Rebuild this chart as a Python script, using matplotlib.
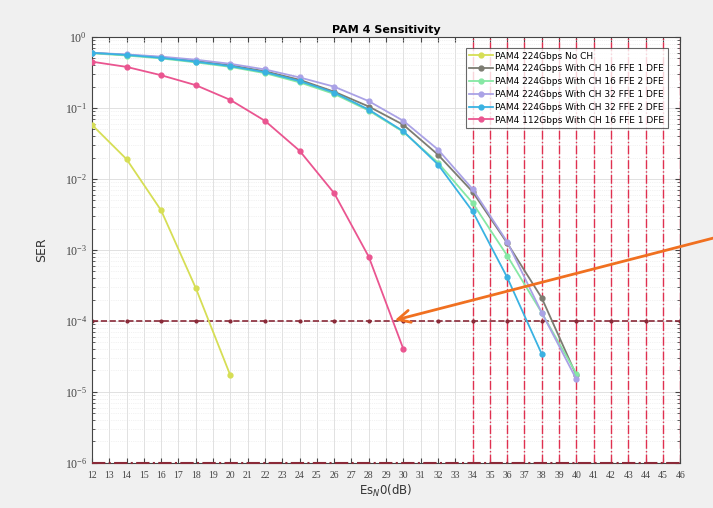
import numpy as np
import matplotlib
matplotlib.use("Agg")
import matplotlib.pyplot as plt
from matplotlib.ticker import LogLocator, NullFormatter

# SER curves (x in dB)
x_no_ch = [12, 14, 16, 18, 20]
ser_no_ch = [0.058, 0.019, 0.0036, 2.9e-4, 1.7e-5]

x_long = [12, 14, 16, 18, 20, 22, 24, 26, 28, 30, 32, 34, 36, 38, 40]
ser_ch16_ffe1 = [0.60, 0.56, 0.52, 0.46, 0.40, 0.33, 0.25, 0.17, 0.105, 0.058,
                 0.022, 0.0066, 0.00125, 2.1e-4, 1.7e-5]
ser_ch16_ffe2 = [0.59, 0.55, 0.50, 0.44, 0.38, 0.31, 0.23, 0.158, 0.092, 0.046,
                 0.017, 0.0046, 8.3e-4, 1.3e-4, 1.8e-5]
ser_ch32_ffe1 = [0.60, 0.57, 0.53, 0.48, 0.42, 0.35, 0.27, 0.20, 0.125, 0.066,
                 0.026, 0.0072, 0.0013, 1.3e-4, 1.5e-5]

x_ch32_ffe2 = [12, 14, 16, 18, 20, 22, 24, 26, 28, 30, 32, 34, 36, 38]
ser_ch32_ffe2 = [0.60, 0.56, 0.51, 0.45, 0.39, 0.32, 0.24, 0.165, 0.095, 0.047,
                 0.016, 0.0035, 4.1e-4, 3.4e-5]

x_112 = [12, 14, 16, 18, 20, 22, 24, 26, 28, 30]
ser_112 = [0.45, 0.38, 0.29, 0.21, 0.13, 0.066, 0.025, 0.0063, 8e-4, 4e-5]

labels = ["PAM4 224Gbps No CH",
          "PAM4 224Gbps With CH 16 FFE 1 DFE",
          "PAM4 224Gbps With CH 16 FFE 2 DFE",
          "PAM4 224Gbps With CH 32 FFE 1 DFE",
          "PAM4 224Gbps With CH 32 FFE 2 DFE",
          "PAM4 112Gbps With CH 16 FFE 1 DFE"]
colors = ["#d6de55", "#7c7c72", "#86e8a4", "#aaa2e6", "#3ab2e2", "#ea5590"]

target_ser = 1e-4
marker_x = list(range(12, 47, 2))
red_x = list(range(34, 47))
xticks = list(range(12, 47))
yticks = [1e-6, 1e-5, 1e-4, 1e-3, 1e-2, 1e-1, 1]

fig = plt.figure(figsize=(7.13, 5.08), dpi=100, facecolor="#f0f0f0")
ax = fig.add_axes([0.129, 0.089, 0.825, 0.838])

series = [(x_no_ch, ser_no_ch), (x_long, ser_ch16_ffe1), (x_long, ser_ch16_ffe2),
          (x_long, ser_ch32_ffe1), (x_ch32_ffe2, ser_ch32_ffe2), (x_112, ser_112)]
for (xs, ys), lab, c in zip(series, labels, colors):
    ax.semilogy(xs, ys, "-o", color=c, lw=1.3, ms=3.5, mfc=c, mec=c, label=lab, zorder=3)

# reference lines
for xv in red_x:
    ax.axvline(xv, color="#e03050", ls="-.", lw=1.0, zorder=2)
ax.plot(marker_x, [target_ser] * len(marker_x), "--.", color="#8a2a38", lw=1.2, ms=4, zorder=2)
ax.plot(marker_x, [1e-6] * len(marker_x), "-.", color="#8a2a38", lw=1.5, ms=4, zorder=4, clip_on=False)

ax.set_xlim(12, 46)
ax.set_ylim(1e-6, 1)
ax.set_xticks(xticks)
ax.set_yticks(yticks)
ax.yaxis.set_minor_locator(LogLocator(base=10, subs=np.arange(2, 10), numticks=10))
ax.yaxis.set_minor_formatter(NullFormatter())
ax.grid(True, which="major", color="#dcdcdc", lw=0.6)
ax.grid(True, which="minor", axis="y", color="#e6e6e6", lw=0.5, ls=":")
ax.tick_params(which="both", direction="in", top=True, right=True, labelsize=7,
               colors="#444444")
ax.tick_params(axis="x", pad=6)
ax.tick_params(axis="y", which="major", labelsize=8.5)
for lab in ax.get_xticklabels() + ax.get_yticklabels():
    lab.set_family("Liberation Serif")
for s in ax.spines.values():
    s.set_color("#444444")

ax.set_title("PAM 4 Sensitivity", fontsize=8, fontweight="bold", pad=3)
ax.set_xlabel("Es$_N$0(dB)", fontsize=8.5, color="#333333", labelpad=2)
ax.set_ylabel("SER", fontsize=9, color="#333333", labelpad=12)

leg = ax.legend(loc="upper right", fontsize=6.5, frameon=True, fancybox=False,
                edgecolor="#444444", borderpad=0.4, labelspacing=0.42,
                handlelength=2.6, handletextpad=0.3, bbox_to_anchor=(0.987, 0.985))
leg.get_frame().set_linewidth(0.8)

ax.annotate("", xy=(29.35, target_ser), xycoords="data",
            xytext=(1.005, 0.533), textcoords="figure fraction",
            arrowprops=dict(arrowstyle="->", color="#f07020", lw=2.0,
                            mutation_scale=22), annotation_clip=False, zorder=6)

fig.savefig("out.png", dpi=100, facecolor=fig.get_facecolor())
